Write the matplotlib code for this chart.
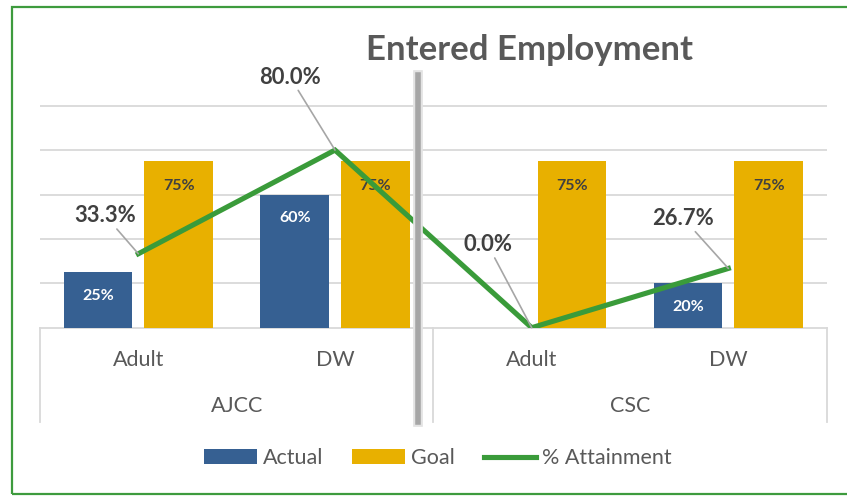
import numpy as np
import matplotlib
matplotlib.use("Agg")
import matplotlib.pyplot as plt
from matplotlib.patches import Patch, Rectangle
from matplotlib.lines import Line2D
import matplotlib.transforms as mtransforms

plt.rcParams['font.family'] = ['Lato', 'DejaVu Sans']

# data
groups = ['AJCC', 'CSC']
subcats = ['Adult', 'DW', 'Adult', 'DW']
actual = [0.25, 0.60, 0.0, 0.20]
goal = [0.75, 0.75, 0.75, 0.75]
attainment = [0.333, 0.800, 0.0, 0.267]

BLUE = '#366092'
GOLD = '#E8B000'
GREEN = '#3A9B3A'
GRID = '#D9D9D9'
TXT = '#595959'
LBL = '#404040'

W, H = 847, 496
fig = plt.figure(figsize=(W / 100, H / 100), dpi=100)


def fx(px):
    return px / W


def fy(py):
    return 1 - py / H


ax = fig.add_axes([fx(40), fy(327.7), fx(826.7) - fx(40), fy(83.5) - fy(327.7)])
x = np.arange(len(subcats))
bw = 0.35
off = 0.205

ax.bar(x - off, actual, bw, color=BLUE, zorder=2)
ax.bar(x + off, goal, bw, color=GOLD, zorder=2)
ax.plot(x, attainment, color=GREEN, lw=3.7, zorder=4, solid_joinstyle='miter')

ax.set_xlim(-0.5, 3.5)
ax.set_ylim(0, 1.1)
ax.set_yticks([0.2, 0.4, 0.6, 0.8, 1.0])
ax.yaxis.grid(True, color=GRID, lw=1.3, zorder=0)
ax.set_axisbelow(True)
ax.tick_params(left=False, bottom=False, labelleft=False, labelbottom=False)
for s in ax.spines.values():
    s.set_visible(False)

# bar labels
for i in range(len(x)):
    if actual[i] > 0:
        ax.annotate(f"{actual[i]*100:.0f}%", xy=(x[i] - off, actual[i]), xytext=(0, -24),
                    textcoords='offset pixels', ha='center', va='center',
                    color='white', fontsize=11.5, fontweight='bold', zorder=3)
    ax.annotate(f"{goal[i]*100:.0f}%", xy=(x[i] + off, goal[i]), xytext=(0, -25),
                textcoords='offset pixels', ha='center', va='center',
                color=LBL, fontsize=11.5, fontweight='bold', zorder=3)

# attainment labels with leader lines
lbl_off = [(-33, 38), (-45, 73), (-44, 83), (-45, 50)]
for i in range(len(x)):
    ax.annotate(f"{attainment[i]*100:.1f}%", xy=(x[i], attainment[i]), xytext=lbl_off[i],
                textcoords='offset pixels', ha='center', va='center',
                color=LBL, fontsize=15.8, fontweight='bold', zorder=5,
                arrowprops=dict(arrowstyle='-', color='#A6A6A6', lw=1.2,
                                shrinkA=0, shrinkB=0))

# category axis box
trans = mtransforms.blended_transform_factory(ax.transData, ax.transAxes)
bot = -(421.7 - 327.7) / (327.7 - 83.5)
ax.plot([-0.5, 3.5], [0, 0], color=GRID, lw=1.3, transform=trans, clip_on=False, zorder=1)
for xv in [-0.5, 1.5, 3.5]:
    ax.plot([xv, xv], [0, bot], color=GRID, lw=1.3, transform=trans, clip_on=False)
ysub = -(360 - 327.7) / (327.7 - 83.5)
ygrp = -(406 - 327.7) / (327.7 - 83.5)
for i, s in enumerate(subcats):
    ax.text(x[i], ysub, s, transform=trans, ha='center', va='center', color=TXT, fontsize=15.5)
for j, g in enumerate(groups):
    ax.text(0.5 + 2 * j, ygrp, g, transform=trans, ha='center', va='center', color=TXT, fontsize=15.5)

# separator line
fig.add_artist(Line2D([fx(417.5), fx(417.5)], [fy(75), fy(422)], color='#E3E3E3', lw=7))
fig.add_artist(Line2D([fx(417.5), fx(417.5)], [fy(75), fy(422)], color='#A6A6A6', lw=4))

# title
fig.text(fx(530), fy(59.5), 'Entered Employment', ha='center', va='baseline',
         fontsize=25, fontweight='bold', color=TXT)

# legend
handles = [Patch(facecolor=BLUE), Patch(facecolor=GOLD), Line2D([], [], color=GREEN, lw=3.7)]
fig.legend(handles, ['Actual', 'Goal', '% Attainment'], loc='center', ncol=3,
           bbox_to_anchor=(fx(438), fy(458)), frameon=False, fontsize=15.5,
           handlelength=2.45, handleheight=0.65, handletextpad=0.28, columnspacing=1.35,
           labelcolor=TXT)

# green border
fig.add_artist(Rectangle((fx(12), fy(494)), 1.1, fy(7) - fy(494), fill=False,
                         edgecolor='#3E9B3E', lw=1.6, transform=fig.transFigure))

fig.savefig('out.png', dpi=100, facecolor='white')
